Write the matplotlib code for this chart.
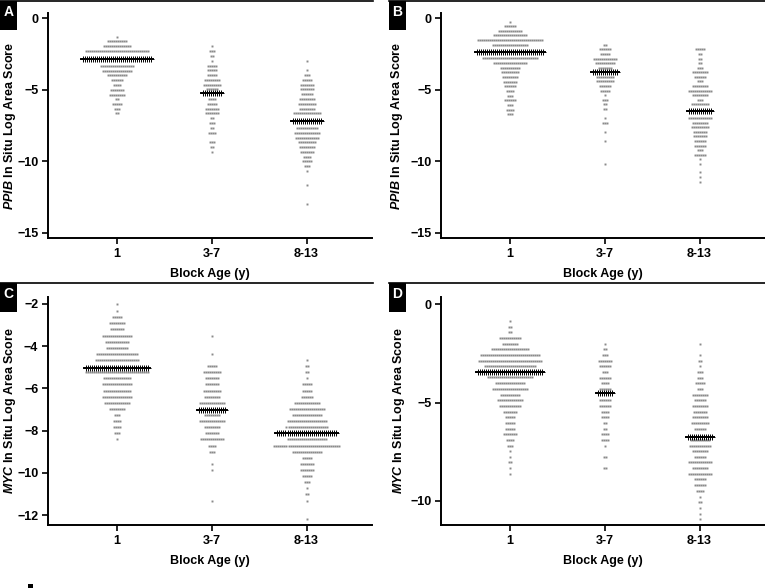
import matplotlib
matplotlib.use("Agg")
import matplotlib.pyplot as plt
import numpy as np
from matplotlib.patches import Rectangle

plt.rcParams['font.family'] = ['Liberation Sans', 'DejaVu Sans']
plt.rcParams['font.weight'] = 'bold'
plt.rcParams['mathtext.fontset'] = 'custom'
plt.rcParams['mathtext.it'] = 'Liberation Sans:italic:bold'
plt.rcParams['mathtext.rm'] = 'Liberation Sans:bold'

categories = ["1", "3-7", "8-13"]

# each group: row values (binned log score) and number of samples in that row
# panel A - PPIB
a1_y = [-1.33, -1.63, -1.98, -2.33, -2.84, -3.33, -3.68, -4.0, -4.35, -4.68, -5.0, -5.35, -5.68, -6.0, -6.33, -6.65]
a1_n = [1, 10, 14, 32, 35, 17, 15, 10, 6, 4, 7, 8, 2, 5, 3, 2]
a2_y = [-1.95, -2.3, -2.65, -2.98, -3.33, -3.65, -3.98, -4.33, -4.65, -4.98, -5.21, -5.65, -5.98, -6.33, -6.65,
        -7.0, -7.33, -7.68, -8.0, -8.68, -9.0, -9.35]
a2_n = [1, 3, 2, 1, 5, 5, 5, 8, 9, 6, 10, 4, 5, 7, 7, 2, 3, 2, 4, 3, 2, 1]
a3_y = [-2.98, -3.65, -3.98, -4.33, -4.65, -4.98, -5.33, -5.65, -5.98, -6.33, -6.65, -7.19, -7.68, -8.0, -8.35,
        -8.68, -9.0, -9.35, -9.68, -10.0, -10.35, -10.68, -11.68, -13.0]
a3_n = [1, 1, 3, 5, 7, 7, 6, 8, 9, 8, 14, 15, 11, 13, 12, 9, 8, 7, 4, 5, 3, 1, 1, 1]
a_median = [-2.84, -5.21, -7.19]

# panel B - PPIB
b1_y = [-0.26, -0.56, -0.88, -1.21, -1.53, -1.86, -2.35, -2.82, -3.14, -3.47, -3.79, -4.12, -4.44, -4.77,
        -5.09, -5.42, -5.75, -6.07, -6.4, -6.7]
b1_n = [1, 6, 12, 17, 33, 18, 34, 28, 17, 10, 9, 8, 7, 6, 4, 3, 6, 3, 4, 3]
b2_y = [-1.86, -2.19, -2.51, -2.84, -3.16, -3.47, -3.77, -4.12, -4.42, -4.75, -5.07, -5.4, -5.72, -6.02,
        -6.35, -7.0, -7.3, -7.96, -8.58, -10.17]
b2_n = [2, 6, 5, 12, 10, 7, 13, 9, 9, 6, 5, 1, 3, 2, 2, 1, 3, 1, 1, 1]
b3_y = [-2.19, -2.51, -2.84, -3.16, -3.47, -3.79, -4.12, -4.42, -4.75, -5.07, -5.4, -5.72, -6.02, -6.47,
        -6.98, -7.3, -7.63, -7.96, -8.26, -8.58, -8.91, -9.23, -9.54, -9.84, -10.17, -10.77, -11.09, -11.42]
b3_n = [5, 2, 2, 2, 3, 8, 6, 3, 8, 12, 8, 3, 9, 12, 12, 8, 9, 7, 7, 6, 6, 3, 6, 1, 1, 1, 1, 1]
b_median = [-2.35, -3.77, -6.47]

# panel C - MYC
c1_y = [-2.02, -2.32, -2.63, -2.92, -3.2, -3.5, -3.79, -4.07, -4.37, -4.65, -5.02, -5.24, -5.52, -5.8,
        -6.11, -6.39, -6.68, -6.98, -7.26, -7.55, -7.84, -8.13, -8.41]
c1_n = [1, 1, 5, 8, 7, 15, 12, 11, 21, 22, 32, 32, 14, 15, 14, 15, 13, 8, 3, 4, 4, 3, 1]
c2_y = [-3.5, -4.37, -4.94, -5.24, -5.52, -5.8, -6.11, -6.39, -6.68, -7.02, -7.26, -7.55, -7.84, -8.13,
        -8.41, -8.71, -9.0, -9.58, -9.87, -11.32]
c2_n = [1, 1, 5, 9, 7, 7, 9, 8, 13, 14, 8, 13, 8, 7, 12, 4, 3, 1, 1, 1]
c3_y = [-4.65, -4.94, -5.24, -5.52, -5.8, -6.11, -6.39, -6.68, -6.98, -7.26, -7.55, -7.84, -8.13, -8.41,
        -8.71, -9.0, -9.28, -9.58, -9.87, -10.15, -10.45, -10.73, -11.02, -11.32, -12.2]
c3_n = [1, 2, 2, 1, 5, 5, 6, 13, 18, 15, 20, 21, 30, 20, 33, 15, 5, 7, 7, 5, 3, 1, 2, 1, 1]
c_median = [-5.02, -7.02, -8.13]

# panel D - MYC
d1_y = [-0.86, -1.15, -1.44, -1.73, -2.01, -2.3, -2.59, -2.88, -3.16, -3.43, -3.72, -4.01, -4.3, -4.62,
        -4.89, -5.18, -5.47, -5.75, -6.04, -6.33, -6.6, -6.9, -7.19, -7.48, -7.75, -8.04, -8.32, -8.61]
d1_n = [1, 2, 2, 11, 8, 19, 30, 32, 26, 33, 23, 15, 18, 10, 13, 11, 7, 5, 5, 5, 7, 4, 3, 1, 1, 2, 1, 1]
d2_y = [-2.01, -2.3, -2.59, -2.88, -3.16, -3.45, -3.74, -4.01, -4.3, -4.5, -4.89, -5.18, -5.47, -5.75,
        -6.04, -6.33, -6.6, -6.9, -7.19, -7.75, -8.32]
d2_n = [1, 2, 3, 7, 6, 3, 6, 4, 6, 8, 6, 6, 4, 4, 2, 2, 4, 4, 1, 2, 2]
d3_y = [-2.01, -2.59, -2.88, -3.16, -3.45, -3.74, -4.01, -4.3, -4.62, -4.89, -5.18, -5.47, -5.75, -6.04,
        -6.33, -6.74, -6.9, -7.19, -7.48, -7.75, -8.04, -8.32, -8.61, -8.9, -9.19, -9.48, -9.78, -10.07,
        -10.36, -10.64, -10.93]
d3_n = [1, 1, 2, 1, 3, 3, 5, 3, 8, 6, 8, 7, 8, 9, 6, 13, 10, 11, 8, 6, 12, 8, 12, 6, 6, 4, 1, 2, 1, 1, 1]
d_median = [-3.43, -4.5, -6.74]

W, H = 765, 588
fig = plt.figure(figsize=(W / 100, H / 100), dpi=100)


def px_axes(l, t, r, b):
    return fig.add_axes([l / W, 1 - b / H, (r - l) / W, (b - t) / H])


DX = 0.0212  # horizontal step between stacked points


def draw_group(ax, pos, ys, ns, med):
    for y, n in zip(ys, ns):
        xs = pos + (np.arange(n) - (n - 1) / 2) * DX
        if abs(y - med) < 1e-6:
            ax.plot([xs[0] - DX, xs[-1] + DX], [y, y], color='black', lw=1.4, zorder=3)
            ax.plot(xs, np.full(n, y), ls='none', marker='+', ms=5, mew=0.7,
                    color='black', zorder=4)
        else:
            ax.plot(xs, np.full(n, y), ls='none', marker='s', ms=1.4, mew=0,
                    color='#8a8a8a', zorder=2)


def style_axes(ax, gene, ylim, yticks, label_x):
    ax.set_xlim(0.272, 3.69)
    ax.set_ylim(*ylim)
    ax.set_yticks(yticks)
    ax.set_xticks([1, 2, 3])
    ax.set_xticklabels(categories)
    for s in ['top', 'right']:
        ax.spines[s].set_visible(False)
    for s in ['left', 'bottom']:
        ax.spines[s].set_linewidth(1.4)
    ax.tick_params(width=1.2, length=4, labelsize=9, pad=3)
    for lab in ax.get_xticklabels() + ax.get_yticklabels():
        lab.set_fontweight('bold')
    ax.set_xlabel("Block Age (y)", fontsize=9, fontweight='bold', labelpad=6)
    ax.set_ylabel(r"$\mathit{" + gene + "}$ In Situ Log Area Score", fontsize=9, fontweight='bold')
    ax.yaxis.set_label_coords(label_x, 0.5)


panels = [
    ("A", (48, 13, 372, 238), "PPIB", (-15.35, 0.35), [0, -5, -10, -15],
     [(a1_y, a1_n), (a2_y, a2_n), (a3_y, a3_n)], a_median, -0.094),
    ("B", (441, 13, 765, 238), "PPIB", (-15.35, 0.35), [0, -5, -10, -15],
     [(b1_y, b1_n), (b2_y, b2_n), (b3_y, b3_n)], b_median, -0.112),
    ("C", (48, 297, 372, 525), "MYC", (-12.47, -1.67), [-2, -4, -6, -8, -10, -12],
     [(c1_y, c1_n), (c2_y, c2_n), (c3_y, c3_n)], c_median, -0.094),
    ("D", (441, 297, 765, 525), "MYC", (-11.22, 0.36), [0, -5, -10],
     [(d1_y, d1_n), (d2_y, d2_n), (d3_y, d3_n)], d_median, -0.104),
]

for letter, box, gene, ylim, yticks, groups, medians, label_x in panels:
    ax = px_axes(*box)
    for i, ((ys, ns), med) in enumerate(zip(groups, medians)):
        draw_group(ax, i + 1, ys, ns, med)
    style_axes(ax, gene, ylim, yticks, label_x)

# panel frames: top rule and black letter tag
frames = [("A", 0, 1, 373), ("B", 389, 1, 765), ("C", 0, 283, 373), ("D", 389, 283, 765)]
for letter, x0, ytop, x1 in frames:
    fig.add_artist(plt.Line2D([x0 / W, x1 / W], [1 - ytop / H, 1 - ytop / H],
                              color='black', lw=1.2))
    fig.add_artist(Rectangle((x0 / W, 1 - (ytop + 29) / H), 17 / W, 29 / H,
                             color='black', lw=0))
    fig.text((x0 + 8.5) / W, 1 - (ytop + 11) / H, letter, color='white', fontsize=10,
             fontweight='bold', ha='center', va='center')

fig.add_artist(Rectangle((28 / W, 0), 5 / W, 4 / H, color='black', lw=0))

fig.savefig("out.png", dpi=100)
